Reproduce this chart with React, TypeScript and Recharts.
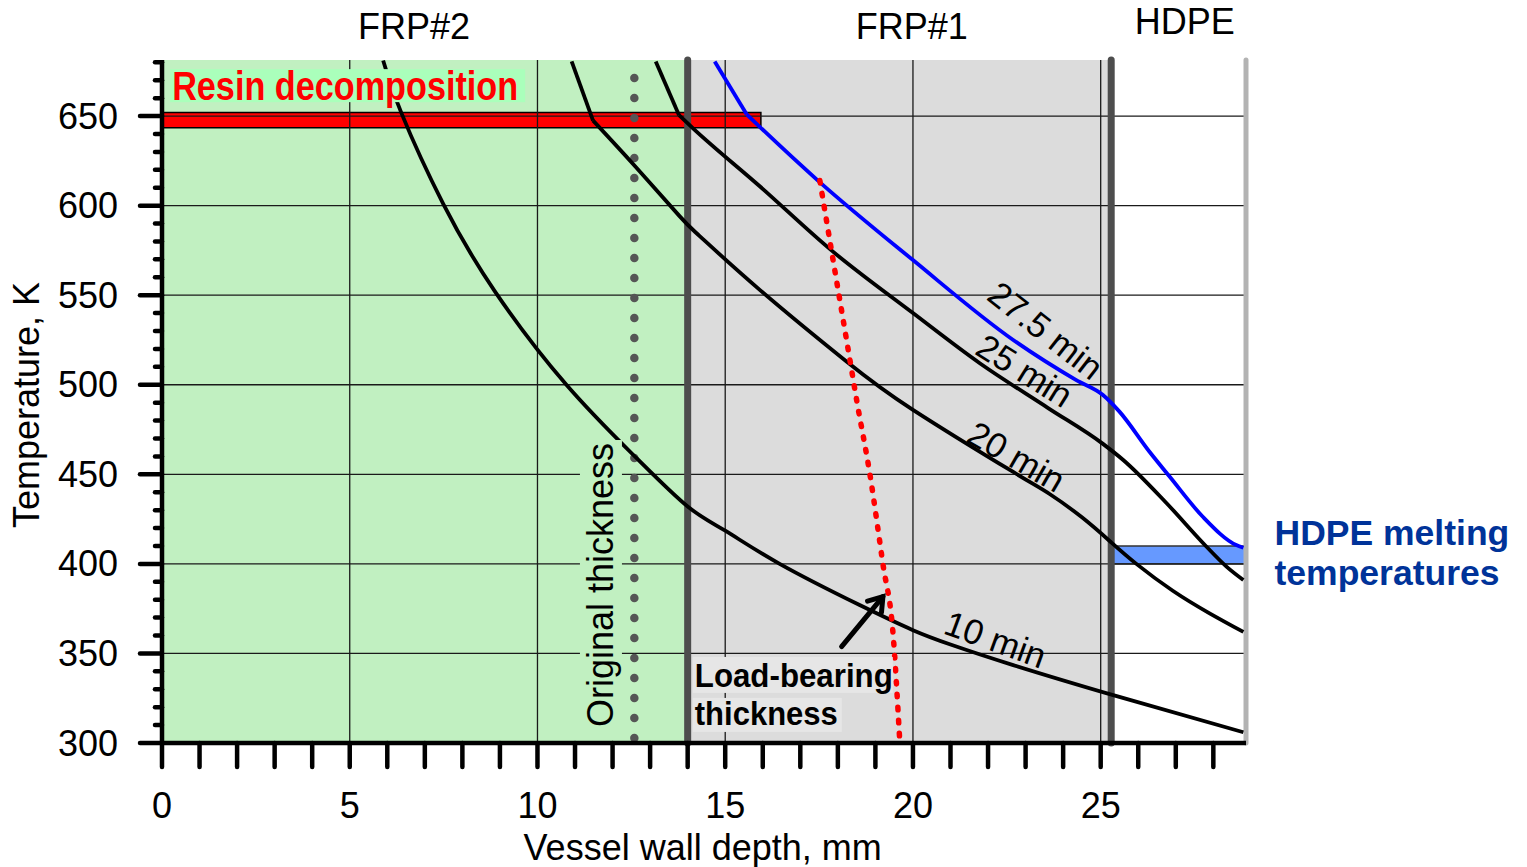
import React from 'react';
import { ComposedChart, Line, XAxis, YAxis, ReferenceArea, ReferenceLine, ReferenceDot } from 'recharts';

const FONT = '"Liberation Sans", Arial, Helvetica, sans-serif';

// axes
const depthTicks = [0, 1, 2, 3, 4, 5, 6, 7, 8, 9, 10, 11, 12, 13, 14, 15, 16, 17, 18, 19, 20, 21, 22, 23, 24, 25, 26, 27, 28];
const depthLabels = [0, 5, 10, 15, 20, 25];
const tempTicks = [300, 310, 320, 330, 340, 350, 360, 370, 380, 390, 400, 410, 420, 430, 440, 450, 460, 470, 480, 490, 500,
  510, 520, 530, 540, 550, 560, 570, 580, 590, 600, 610, 620, 630, 640, 650, 660, 670, 680];
const tempLabels = [300, 350, 400, 450, 500, 550, 600, 650];
const gridDepths = [5, 10, 15, 20, 25];
const gridTemps = [350, 400, 450, 500, 550, 600, 650];

// layers (mm)
const frp2End = 14;
const frp1End = 25.28;
const hdpeEnd = 28.87;
const originalThickness = 12.58;

// bands
const resinBand = { x1: 0, x2: 15.95, t1: 643.5, t2: 652 };
const meltBand = { t1: 400, t2: 410 };

// temperature profiles (depth mm, temperature K); "Top" parts run above the resin kink
const profile10 = [
  { x: 5.89, t: 681 }, { x: 6.38, t: 651.5 }, { x: 7.49, t: 601 }, { x: 8.87, t: 552 }, { x: 10.77, t: 500 },
  { x: 12.64, t: 459 }, { x: 14.0, t: 432 }, { x: 15, t: 418.5 }, { x: 16.45, t: 400 }, { x: 18.58, t: 377 },
  { x: 20, t: 363 }, { x: 21, t: 355 }, { x: 22.67, t: 343.5 }, { x: 25.45, t: 326 }, { x: 28.8, t: 306 },
];
const profile20Top = [{ x: 10.91, t: 680.5 }, { x: 11.48, t: 647.5 }];
const profile20 = [
  { x: 11.48, t: 647.5 }, { x: 12.6, t: 622 }, { x: 13.79, t: 594 }, { x: 14.32, t: 583 }, { x: 15.92, t: 553 },
  { x: 18.23, t: 513 }, { x: 20, t: 486 }, { x: 22.67, t: 451.3 }, { x: 23.64, t: 439 }, { x: 24.5, t: 426 },
  { x: 25.28, t: 412 }, { x: 25.95, t: 400 }, { x: 26.92, t: 385 }, { x: 27.9, t: 372.4 }, { x: 28.8, t: 362 },
];
const profile25Top = [{ x: 13.15, t: 680.5 }, { x: 13.77, t: 650.5 }];
const profile25 = [
  { x: 13.77, t: 650.5 }, { x: 14.15, t: 643 }, { x: 15.92, t: 610.8 }, { x: 17.83, t: 575 }, { x: 20, t: 540 },
  { x: 21.78, t: 512 }, { x: 23.6, t: 487 }, { x: 25.06, t: 467 }, { x: 25.6, t: 458 }, { x: 26.75, t: 434 },
  { x: 27.8, t: 410 }, { x: 28.35, t: 398.5 }, { x: 28.8, t: 391 },
];
const profile275Top = [{ x: 14.72, t: 680.5 }, { x: 15.57, t: 651 }];
const profile275 = [
  { x: 15.57, t: 651 }, { x: 15.92, t: 644 }, { x: 17.47, t: 614 }, { x: 20, t: 569.6 }, { x: 22.67, t: 525 },
  { x: 24.35, t: 502.6 }, { x: 25.06, t: 494.3 }, { x: 25.5, t: 485 }, { x: 26.3, t: 462.6 }, { x: 26.84, t: 448.6 },
  { x: 27.72, t: 426.3 }, { x: 28.61, t: 410.5 }, { x: 28.8, t: 409 },
];
const loadBearing = [
  { x: 17.52, t: 614 }, { x: 17.83, t: 575 }, { x: 18.32, t: 514 }, { x: 18.5, t: 491.5 }, { x: 18.85, t: 450.5 },
  { x: 19.2, t: 400 }, { x: 19.47, t: 361 }, { x: 19.65, t: 300.5 },
];

const curveLabels = [
  { x: 22.2, t: 358, text: '10 min', angle: 20 },
  { x: 22.76, t: 460, text: '20 min', angle: 30 },
  { x: 22.98, t: 508, text: '25 min', angle: 32 },
  { x: 23.54, t: 530.5, text: '27.5 min', angle: 38 },
];
const zoneLabels = [
  { x: 6.71, t: 693, text: 'FRP#2' },
  { x: 19.97, t: 693, text: 'FRP#1' },
  { x: 27.24, t: 695.8, text: 'HDPE' },
];

const XTick = (p: any) => {
  const { x, y, payload } = p;
  const v = payload.value;
  return (
    <g>
      <line x1={x} x2={x} y1={y} y2={y + 24} stroke="#000" strokeWidth={4.5} strokeLinecap="round" />
      {depthLabels.includes(v) && (
        <text x={x} y={y + 75} textAnchor="middle" fontSize={36} fontFamily={FONT} fill="#000">{v}</text>
      )}
    </g>
  );
};

const YTick = (p: any) => {
  const { x, y, payload } = p;
  const v = payload.value;
  const major = tempLabels.includes(v);
  return (
    <g>
      <line x1={x - (major ? 22 : 7)} x2={x} y1={y} y2={y} stroke="#000" strokeWidth={4.5} strokeLinecap="round" />
      {major && (
        <text x={x - 44} y={y + 12.5} textAnchor="end" fontSize={36} fontFamily={FONT} fill="#000">{v}</text>
      )}
    </g>
  );
};

const Arrow = (p: any) => {
  const { x1, y1, x2, y2 } = p;
  const a = Math.atan2(y2 - y1, x2 - x1);
  const len = 16;
  const w1 = { x: x2 - len * Math.cos(a - 0.6), y: y2 - len * Math.sin(a - 0.6) };
  const w2 = { x: x2 - len * Math.cos(a + 0.6), y: y2 - len * Math.sin(a + 0.6) };
  return (
    <g stroke="#000" strokeWidth={5} strokeLinecap="round" fill="none">
      <line x1={x1} y1={y1} x2={x2} y2={y2} />
      <polyline points={`${w1.x},${w1.y} ${x2},${y2} ${w2.x},${w2.y}`} />
    </g>
  );
};

const curve = (data: any[], color: string, type: 'linear' | 'monotone' | 'natural', key: string) => (
  <Line key={key} data={data} dataKey="t" type={type} stroke={color} strokeWidth={3.8} dot={false}
    strokeLinejoin="round" isAnimationActive={false} />
);

export default function App() {
  return (
    <div style={{ position: 'absolute', left: 0, top: 0, background: '#fff' }}>
      <ComposedChart width={1527} height={867} margin={{ top: 60, right: 281, bottom: 0, left: 0 }}>
        <XAxis
          type="number"
          dataKey="x"
          domain={[0, hdpeEnd]}
          ticks={depthTicks}
          interval={0}
          allowDataOverflow
          height={124}
          tickSize={0}
          tickMargin={0}
          tickLine={false}
          axisLine={{ stroke: '#000', strokeWidth: 4.5 }}
          tick={XTick}
        />
        <YAxis
          type="number"
          dataKey="t"
          domain={[300, 681.3]}
          ticks={tempTicks}
          interval={0}
          allowDataOverflow
          width={162}
          tickSize={0}
          tickMargin={0}
          tickLine={false}
          axisLine={{ stroke: '#000', strokeWidth: 4.5 }}
          tick={YTick}
        />

        <ReferenceArea x1={0} x2={frp2End} y1={300} y2={681.3} fill="#c1f0c1" fillOpacity={1} stroke="none" />
        <ReferenceArea x1={frp2End} x2={frp1End} y1={300} y2={681.3} fill="#dcdcdc" fillOpacity={1} stroke="none" />
        <ReferenceArea x1={resinBand.x1} x2={resinBand.x2} y1={resinBand.t1} y2={resinBand.t2}
          fill="#ff0000" fillOpacity={1} stroke="#000" strokeWidth={1.5} />
        <ReferenceArea x1={frp1End} x2={hdpeEnd} y1={meltBand.t1} y2={meltBand.t2}
          fill="#6699ff" fillOpacity={1} stroke="#333" strokeWidth={1.5} />

        {gridTemps.map((t) => (
          <ReferenceLine key={'gt' + t} y={t} stroke="#1a1a1a" strokeWidth={1.3} />
        ))}
        {gridDepths.map((d) => (
          <ReferenceLine key={'gd' + d} x={d} stroke="#1a1a1a" strokeWidth={1.3} />
        ))}

        <ReferenceLine x={frp2End} stroke="#4d4d4d" strokeWidth={7} strokeLinecap="round" />
        <ReferenceLine x={frp1End} stroke="#4d4d4d" strokeWidth={7} strokeLinecap="round" />
        <ReferenceLine x={hdpeEnd} stroke="#b3b3b3" strokeWidth={5} strokeLinecap="round" />
        <ReferenceLine x={originalThickness} stroke="#555" strokeWidth={8.5} strokeDasharray="0 20"
          strokeDashoffset={15} strokeLinecap="round" />

        {curve(profile10, '#000', 'natural', 'c10')}
        {curve(profile20Top, '#000', 'linear', 'c20t')}
        {curve(profile20, '#000', 'natural', 'c20')}
        {curve(profile25Top, '#000', 'linear', 'c25t')}
        {curve(profile25, '#000', 'monotone', 'c25')}
        {curve(profile275Top, '#0000ff', 'linear', 'c275t')}
        {curve(profile275, '#0000ff', 'monotone', 'c275')}
        <Line data={loadBearing} dataKey="t" type="monotone" stroke="#ff0000" strokeWidth={5.5} strokeDasharray="2.5 10.5"
          strokeLinecap="round" dot={false} isAnimationActive={false} />

        <ReferenceLine segment={[{ x: 18.1, y: 353.8 }, { x: 19.2, y: 381.7 }]} shape={Arrow} />

        {curveLabels.map((c) => (
          <ReferenceDot key={c.text} x={c.x} y={c.t} r={1} ifOverflow="visible"
            shape={(p: any) => (
              <text x={p.cx} y={p.cy} dy="0.36em" textAnchor="middle" fontSize={35} fontFamily={FONT} fill="#000"
                transform={`rotate(${c.angle} ${p.cx} ${p.cy})`}>{c.text}</text>
            )} />
        ))}
        {zoneLabels.map((z) => (
          <ReferenceDot key={z.text} x={z.x} y={z.t} r={1} ifOverflow="visible"
            shape={(p: any) => (
              <text x={p.cx} y={p.cy} textAnchor="middle" fontSize={36} fontFamily={FONT} fill="#000">{z.text}</text>
            )} />
        ))}

        <ReferenceDot x={0.27} y={658.9} r={1} ifOverflow="visible"
          shape={(p: any) => (
            <g>
              <rect x={p.cx - 2} y={p.cy - 31} width={355} height={33} fill="#aaffbb" />
              <text x={p.cx} y={p.cy} fontSize={41} fontWeight="bold" fontFamily={FONT} fill="#ff0000"
                textLength={346} lengthAdjust="spacingAndGlyphs">Resin decomposition</text>
            </g>
          )} />

        <ReferenceDot x={12.01} y={388.2} r={1} ifOverflow="visible"
          shape={(p: any) => (
            <g>
              <rect x={p.cx - 33} y={p.cy - 145} width={42} height={290} fill="#c1f0c1" />
              <text x={p.cx} y={p.cy} textAnchor="middle" fontSize={36} fontFamily={FONT} fill="#000"
                transform={`rotate(-90 ${p.cx} ${p.cy})`}>Original thickness</text>
            </g>
          )} />

        <ReferenceDot x={14.19} y={331.3} r={1} ifOverflow="visible"
          shape={(p: any) => (
            <g>
              <rect x={p.cx - 2} y={p.cy - 30} width={200} height={36} fill="#e6e6e6" />
              <rect x={p.cx - 2} y={p.cy + 11} width={149} height={34} fill="#e6e6e6" />
              <text x={p.cx} y={p.cy} fontSize={33} fontWeight="bold" fontFamily={FONT} fill="#000"
                textLength={198} lengthAdjust="spacingAndGlyphs">Load-bearing</text>
              <text x={p.cx} y={p.cy + 38} fontSize={33} fontWeight="bold" fontFamily={FONT} fill="#000"
                textLength={143} lengthAdjust="spacingAndGlyphs">thickness</text>
            </g>
          )} />

        <ReferenceDot x={29.63} y={410.5} r={1} ifOverflow="visible"
          shape={(p: any) => (
            <g>
              <text x={p.cx} y={p.cy} fontSize={35.5} fontWeight="bold" fontFamily={FONT} fill="#003399">HDPE melting</text>
              <text x={p.cx} y={p.cy + 40} fontSize={35.5} fontWeight="bold" fontFamily={FONT} fill="#003399">temperatures</text>
            </g>
          )} />

        <ReferenceDot x={-3.27} y={488.7} r={1} ifOverflow="visible"
          shape={(p: any) => (
            <text x={p.cx} y={p.cy} textAnchor="middle" fontSize={36} fontFamily={FONT} fill="#000"
              transform={`rotate(-90 ${p.cx} ${p.cy})`}>Temperature, K</text>
          )} />
        <ReferenceDot x={14.4} y={234.7} r={1} ifOverflow="visible"
          shape={(p: any) => (
            <text x={p.cx} y={p.cy} textAnchor="middle" fontSize={36} fontFamily={FONT} fill="#000">Vessel wall depth, mm</text>
          )} />
      </ComposedChart>
    </div>
  );
}
